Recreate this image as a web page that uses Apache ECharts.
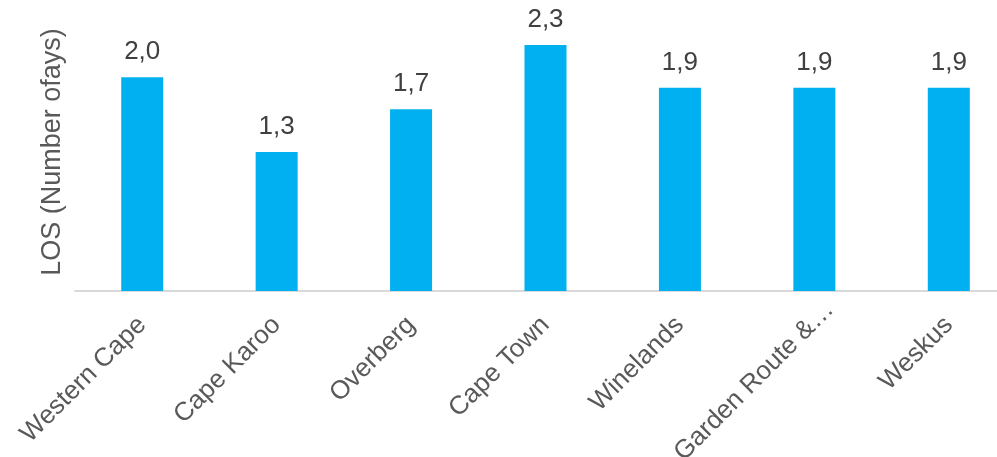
<!DOCTYPE html>
<html>
<head>
<meta charset="utf-8">
<script src="https://cdn.jsdelivr.net/npm/echarts@6/dist/echarts.min.js"></script>
<style>
  html, body { margin: 0; padding: 0; background: #fff; }
  #main { width: 997px; height: 457px; }
</style>
</head>
<body>
<div id="main"></div>
<script>
// regions and average length of stay
var regions = ['Western Cape', 'Cape Karoo', 'Overberg', 'Cape Town', 'Winelands', 'Garden Route & Klein Karoo', 'Weskus'];
var losValues = [2.0, 1.3, 1.7, 2.3, 1.9, 1.9, 1.9];
var yAxisTitle = 'LOS (Number ofays)';

var myChart = echarts.init(document.getElementById('main'));

// long names get cut, the dots hang past the tick like in the original
var categoryData = regions.map(function (name) {
    if (name.length > 14) {
        return { value: name, textStyle: { padding: [0, -22, 0, 0] } };
    }
    return name;
});

var option = {
    animation: false,
    textStyle: { fontFamily: 'Liberation Sans, Arial, sans-serif' },
    grid: {
        left: 75,
        top: 13,
        right: -19,
        bottom: 166,
        containLabel: false,
        outerBoundsMode: 'none'
    },
    xAxis: {
        type: 'category',
        data: categoryData,
        axisLine: { show: true, lineStyle: { color: '#d9d9d9', width: 2 } },
        axisTick: { show: false },
        axisLabel: {
            rotate: 45,
            interval: 0,
            fontSize: 26,
            color: '#595959',
            margin: 30,
            formatter: function (v) {
                return v.length > 14 ? v.slice(0, 14) + '…' : v;
            }
        }
    },
    yAxis: {
        type: 'value',
        min: 0,
        max: 2.6,
        name: yAxisTitle,
        nameLocation: 'middle',
        nameGap: 9,
        nameTextStyle: { fontSize: 27, color: '#595959' },
        axisLine: { show: false },
        axisTick: { show: false },
        axisLabel: { show: false },
        splitLine: { show: false }
    },
    series: [
        {
            type: 'bar',
            data: losValues,
            barWidth: 42,
            itemStyle: { color: '#00B0F0' },
            label: {
                show: true,
                position: 'top',
                distance: 12,
                fontSize: 26,
                color: '#404040',
                formatter: function (p) {
                    return p.value.toFixed(1).replace('.', ',');
                }
            }
        }
    ]
};
myChart.setOption(option);
window.onresize = myChart.resize;
</script>
</body>
</html>
